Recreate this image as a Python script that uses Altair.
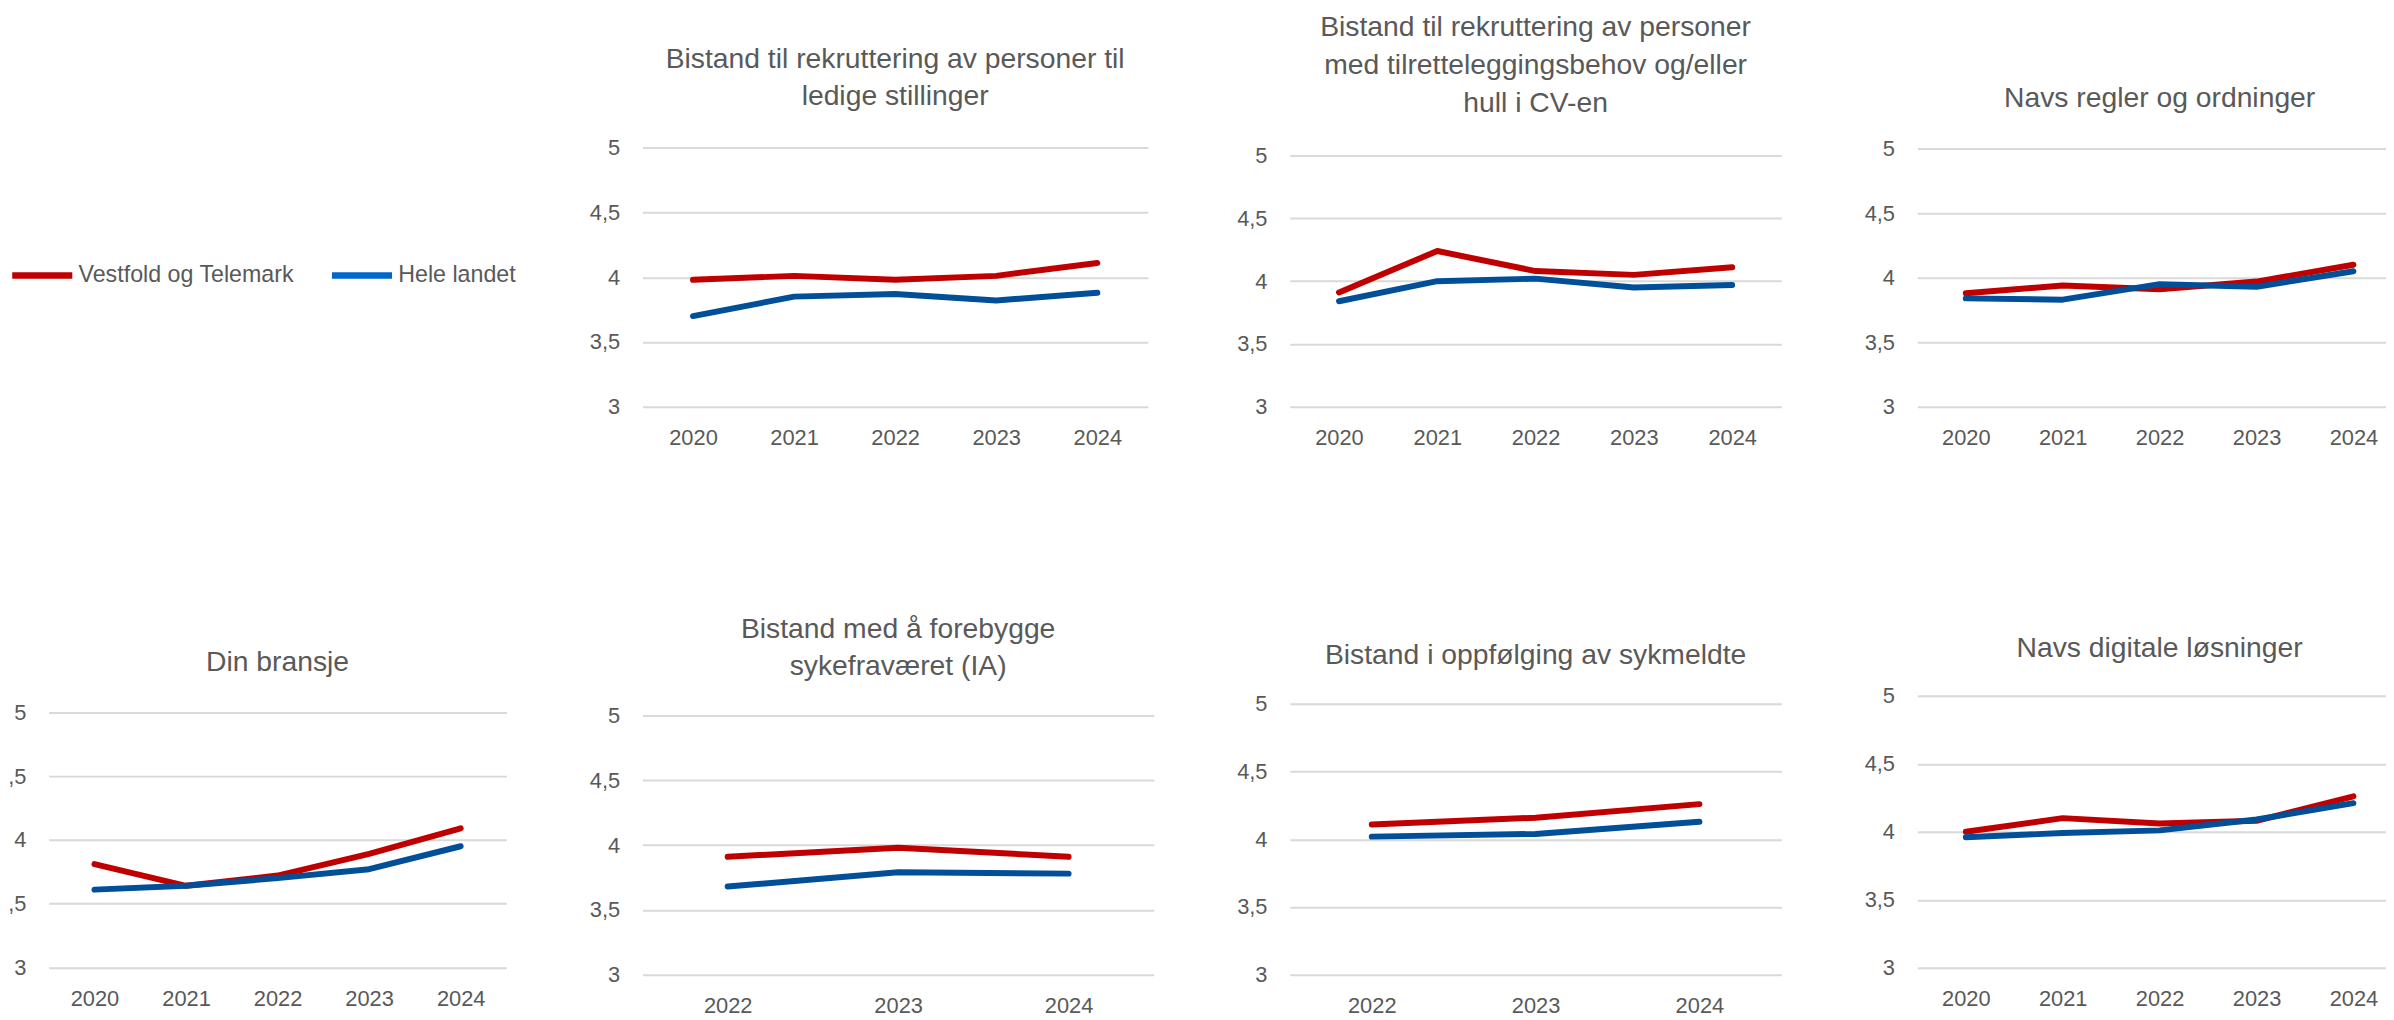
import altair as alt
import pandas as pd

# ---------------- data ----------------
series = ["Vestfold og Telemark", "Hele landet"]
years_5 = ["2020", "2021", "2022", "2023", "2024"]
years_3 = ["2022", "2023", "2024"]
y_ticks = [3, 3.5, 4, 4.5, 5]

title_rekruttering = ["Bistand til rekruttering av personer til", "ledige stillinger"]
title_tilrettelegging = ["Bistand til rekruttering av personer",
                         "med tilretteleggingsbehov og/eller", "hull i CV-en"]
title_regler = "Navs regler og ordninger"
title_bransje = "Din bransje"
title_ia = ["Bistand med å forebygge", "sykefraværet (IA)"]
title_sykmeldte = "Bistand i oppfølging av sykmeldte"
title_digitale = "Navs digitale løsninger"

vt_rekruttering = [3.98, 4.01, 3.98, 4.01, 4.11]
hl_rekruttering = [3.70, 3.85, 3.87, 3.82, 3.88]
vt_tilrettelegging = [3.91, 4.24, 4.08, 4.05, 4.11]
hl_tilrettelegging = [3.84, 4.00, 4.02, 3.95, 3.97]
vt_regler = [3.88, 3.94, 3.91, 3.97, 4.10]
hl_regler = [3.84, 3.83, 3.95, 3.93, 4.05]
vt_bransje = [3.81, 3.64, 3.72, 3.89, 4.09]
hl_bransje = [3.61, 3.64, 3.70, 3.77, 3.95]
vt_ia = [3.91, 3.98, 3.91]
hl_ia = [3.68, 3.79, 3.78]
vt_sykmeldte = [4.11, 4.16, 4.26]
hl_sykmeldte = [4.02, 4.04, 4.13]
vt_digitale = [4.00, 4.10, 4.06, 4.08, 4.26]
hl_digitale = [3.96, 3.99, 4.01, 4.09, 4.21]

# ---------------- style ----------------
FONT = "Liberation Sans"
TEXT = "#595959"
GRID = "#D9D9D9"
RED = "#C00000"
BLUE = "#004F98"
LEGEND_BLUE = "#0066CC"
TICK_FS = 22
TITLE_FS = 28.5


def panel(title, years, vt, hl, width, height, ydomain, title_dy, x_offset=0):
    df = pd.DataFrame({
        "År": years + years,
        "Serie": [series[0]] * len(years) + [series[1]] * len(years),
        "Verdi": vt + hl,
    })
    return alt.Chart(df).mark_line(
        strokeWidth=6, strokeCap="round", strokeJoin="round"
    ).encode(
        x=alt.X("År:N", sort=years,
                scale=alt.Scale(type="point", padding=0.5),
                axis=alt.Axis(title=None, labelAngle=0, domain=False, ticks=False,
                              tickSize=0, grid=False, labelPadding=31,
                              labelBaseline="middle", labelFontSize=TICK_FS,
                              labelColor=TEXT, labelFont=FONT, offset=x_offset)),
        y=alt.Y("Verdi:Q",
                scale=alt.Scale(domain=ydomain, nice=False, zero=False),
                axis=alt.Axis(values=y_ticks, title=None, domain=False, ticks=False,
                              tickSize=0, labelPadding=23, labelFontSize=TICK_FS,
                              labelColor=TEXT, labelFont=FONT, gridColor=GRID,
                              gridWidth=2,
                              labelExpr="replace(toString(datum.value), '.', ',')")),
        color=alt.Color("Serie:N", scale=alt.Scale(domain=series, range=[RED, BLUE]),
                        legend=None),
    ).properties(
        width=width, height=height,
        title=alt.TitleParams(text=title, fontSize=TITLE_FS, font=FONT,
                              fontWeight="normal", color=TEXT, offset=0, dy=title_dy,
                              lineHeight=38, baseline="bottom", anchor="middle"),
    )


legend_df = pd.DataFrame({"Serie": series})
legend_cell = alt.Chart(legend_df).mark_line(strokeWidth=6.5).encode(
    x=alt.value(0), y=alt.value(0),
    color=alt.Color("Serie:N",
                    scale=alt.Scale(domain=series, range=[RED, LEGEND_BLUE]),
                    legend=alt.Legend(title=None, orient="none", legendX=-40,
                                      legendY=95, direction="horizontal",
                                      symbolType="stroke", symbolSize=3660,
                                      symbolStrokeWidth=6.5, labelFontSize=23.4,
                                      labelColor=TEXT, labelFont=FONT, labelOffset=3,
                                      columnPadding=24, labelLimit=0)),
).transform_filter("false").properties(width=461, height=261)

pA = panel(title_rekruttering, years_5, vt_rekruttering, hl_rekruttering,
           509, 261, [3, 5], 3)
pB = panel(title_tilrettelegging, years_5, vt_tilrettelegging, hl_tilrettelegging,
           495, 261, [3, 5.063], 1.5)
pC = panel(title_regler, years_5, vt_regler, hl_regler,
           488, 261, [3, 5.008], 4)
pD = panel(title_bransje, years_5, vt_bransje, hl_bransje,
           461, 281, [2.943, 5.13], 10, -7)
pE = panel(title_ia, years_3, vt_ia, hl_ia,
           515, 281, [3, 5.153], 14)
pF = panel(title_sykmeldte, years_3, vt_sykmeldte, hl_sykmeldte,
           495, 281, [3, 5.061], 5.5)
pG = panel(title_digitale, years_5, vt_digitale, hl_digitale,
           488, 281, [2.949, 5], 7, -7)

chart = alt.concat(
    legend_cell, pA, pB, pC, pD, pE, pF, pG,
    columns=4, spacing={"row": 291, "column": 137}, bounds="flush", align="each",
).resolve_scale(
    x="independent", y="independent", color="independent"
).properties(
    padding={"left": -13, "top": 1, "right": -16, "bottom": 0},
    background="white",
).configure(font=FONT).configure_view(strokeWidth=0, stroke="transparent")

chart.save("out.html", embed_options={"renderer": "svg", "actions": False})
